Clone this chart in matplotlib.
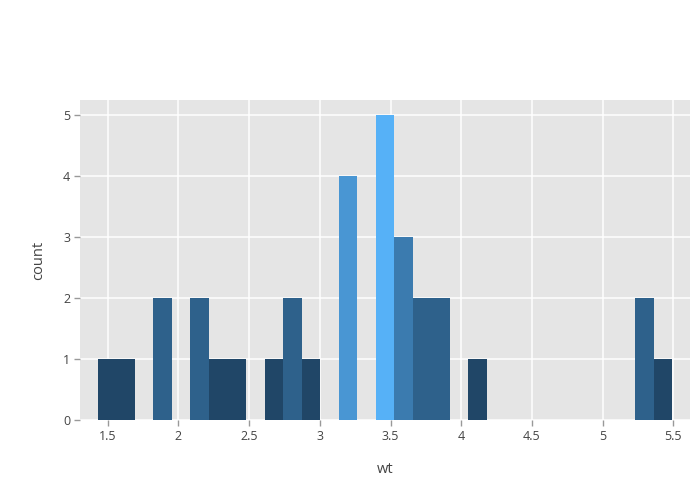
"""Histograma de wt coloreado por count (estilo ggplotly)."""

import matplotlib
matplotlib.use("Agg")
import matplotlib.pyplot as plt
from matplotlib.colors import LinearSegmentedColormap, Normalize

# datos: bins de ancho fijo y sus conteos
bin_start = 1.43
bin_width = 0.131
counts = [1, 1, 0, 2, 0, 2, 1, 1, 0, 1, 2, 1, 0, 4, 0, 5, 3, 2, 2, 0,
          1, 0, 0, 0, 0, 0, 0, 0, 0, 2, 1]
x_ticks = [1.5, 2, 2.5, 3, 3.5, 4, 4.5, 5, 5.5]
x_tick_labels = ["1.5", "2", "2.5", "3", "3.5", "4", "4.5", "5", "5.5"]
y_ticks = [0, 1, 2, 3, 4, 5]

plt.rcParams["font.family"] = ["Open Sans", "DejaVu Sans"]

cmap = LinearSegmentedColormap.from_list("gg", ["#132B43", "#56B1F7"])
norm = Normalize(vmin=0, vmax=max(counts))

fig = plt.figure(figsize=(7, 5), dpi=100)
ax = fig.add_axes([80 / 700, 80 / 500, 610 / 700, 320 / 500])
ax.set_facecolor("#e5e5e5")

lefts = [bin_start + i * bin_width for i in range(len(counts))]
for left, c in zip(lefts, counts):
    if c == 0:
        continue
    ax.bar(left, c, width=bin_width, align="edge", color=cmap(norm(c)),
           linewidth=0, zorder=3)

ax.set_xlim(1.304, 5.618)
ax.set_ylim(0, 5.25)
ax.set_xticks(x_ticks)
ax.set_xticklabels(x_tick_labels)
ax.set_yticks(y_ticks)
ax.grid(True, color="white", linewidth=1.1, zorder=0)
ax.set_axisbelow(True)
for s in ax.spines.values():
    s.set_visible(False)
ax.tick_params(axis="both", length=4, width=1, color="#999999",
               labelcolor="#444444", labelsize=9, pad=3)

ax.set_xlabel("wt", fontsize=10.5, color="#444444", labelpad=14)
ax.set_ylabel("count", fontsize=10.5, color="#444444", labelpad=12)

fig.savefig("out.png", dpi=100)
